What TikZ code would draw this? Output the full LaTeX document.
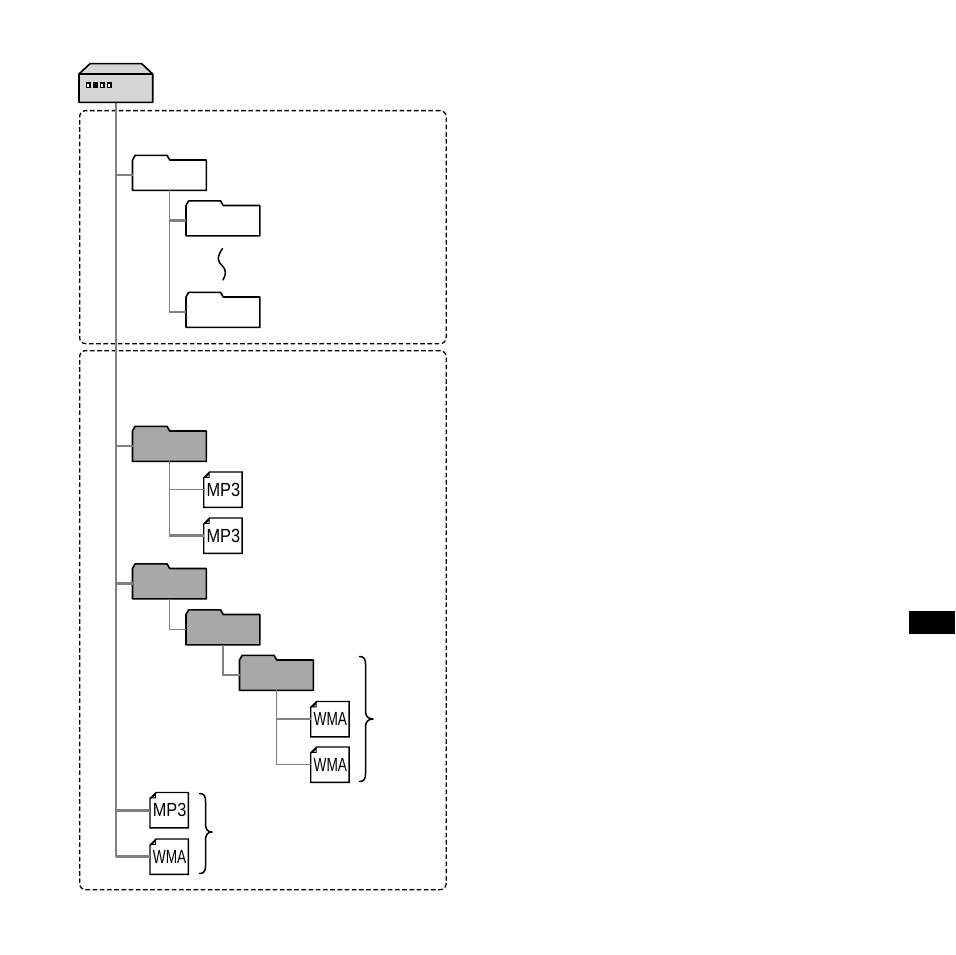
\documentclass[tikz,border=0pt]{standalone}
\usepackage{fontspec}
\setmainfont{Liberation Sans}
\usetikzlibrary{calc}
\definecolor{devgray}{gray}{0.84}
\definecolor{foldergray}{gray}{0.66}
\definecolor{wiregray}{gray}{0.5}
\tikzset{
  hub/.style={draw=black,line width=1.6pt,fill=devgray,line join=round},
  folderline/.style={draw=black,line width=1.6pt,line join=round},
  anchorbox/.style={inner sep=0pt,minimum width=73.5pt,minimum height=30pt},
  filebox/.style={inner sep=0pt,minimum width=38pt,minimum height=35pt,font=\fontsize{19}{19}\selectfont},
  wire/.style={draw=wiregray,line width=1.8pt},
  wirethin/.style={draw=wiregray,line width=1.5pt},
  wirethick/.style={draw=wiregray,line width=2.8pt},
  zone/.style={draw=black,line width=1.3pt,dash pattern=on 4.6pt off 2.6pt,rounded corners=6pt},
  curlyline/.style={draw=black,line width=1.5pt,line cap=round,line join=round}
}
% \folderbox{name}{left}{body top}{fill}
\newcommand{\folderbox}[4]{%
  \node[anchorbox,anchor=north west] (#1) at (#2,#3) {};
  \path[folderline,fill=#4]
    (#1.south west) -- (#1.north west) -- ++(2.6,-4.6) -- ++(32,0) -- ++(2.6,4.6) -- (#1.north east) -- (#1.south east) -- cycle;
}
% \filedoc{name}{left}{top}{text}{xscale}
\newcommand{\filedoc}[5]{%
  \node[filebox,anchor=north west] (#1) at (#2,#3) {\hspace*{0.8pt}\scalebox{#5}[1]{#4}};
  \draw[line width=1.4pt,line join=miter]
    ($(#1.north west)+(6,0)$) -- (#1.north east) -- (#1.south east) -- (#1.south west) -- ($(#1.north west)+(0,6)$) -- cycle;
  \fill[black] ($(#1.north west)+(0.7,5.8)$) -- ($(#1.north west)+(5.8,0.7)$) -- ($(#1.north west)+(5.8,5.8)$) -- cycle;
  \fill[white] ($(#1.north west)+(3.2,4.9)$) -- ($(#1.north west)+(4.9,3.2)$) -- ($(#1.north west)+(4.9,4.9)$) -- cycle;
}
\begin{document}
\begin{tikzpicture}[x=1pt,y=-1pt]
\useasboundingbox (0,0) rectangle (955,955);

% zones
\node[zone,minimum width=366.5pt,minimum height=233pt,inner sep=0pt,anchor=north west] (zoneA) at (79,110) {};
\node[zone,minimum width=366.5pt,minimum height=539pt,inner sep=0pt,anchor=north west] (zoneB) at (79,350) {};

% device node
\node[inner sep=0pt,minimum width=73.3pt,minimum height=28pt,anchor=north west] (dev) at (79,74) {};

% folders
\folderbox{fa}{132.5}{160}{white}
\folderbox{fb}{186}{205.5}{white}
\folderbox{fc}{186}{297}{white}
\folderbox{ga}{132.5}{431}{foldergray}
\folderbox{gb}{132.5}{568.5}{foldergray}
\folderbox{gc}{186}{614.5}{foldergray}
\folderbox{gd}{239.5}{660}{foldergray}

% files
\filedoc{ma}{203.7}{472}{MP3}{0.86}
\filedoc{mb}{203.7}{518}{MP3}{0.86}
\filedoc{wa}{310.7}{701.5}{WMA}{0.72}
\filedoc{wb}{310.7}{747}{WMA}{0.72}
\filedoc{mc}{150}{792.5}{MP3}{0.86}
\filedoc{wc}{150}{839}{WMA}{0.72}

% connectors
\draw[wire] (dev.south) -- (dev.south |- wc.west);
\draw[wirethin] (fa.west) -- (fa.west -| dev.south);
\draw[wirethin] (ga.west) -- (ga.west -| dev.south);
\draw[wirethick] (gb.west) -- (gb.west -| dev.south);
\draw[wirethick] (mc.west) -- (mc.west -| dev.south);
\draw[wirethick] (wc.west) -- (wc.west -| dev.south);
\draw[wirethin] (fa.south) -- (fa.south |- fc.west) -- (fc.west);
\draw[wirethick] (fb.west) -- (fb.west -| fa.south);
\draw[wirethin] (ga.south) -- (ga.south |- mb.west);
\draw[wirethin] (ma.west) -- (ma.west -| ga.south);
\draw[wirethick] (mb.west) -- (mb.west -| ga.south);
\draw[wirethin] (gb.south) -- (gb.south |- gc.west) -- (gc.west);
\draw[wirethin] (gc.south) -- (gc.south |- gd.west) -- (gd.west);
\draw[wirethin] (gd.south) -- (gd.south |- wb.west) -- (wb.west);
\draw[wirethin] (wa.west) -- (wa.west -| gd.south);

% device drawing
\path[hub] (dev.south west) -- (dev.north west) -- (90,63.7) -- (141.7,63.7) -- (dev.north east) -- (dev.south east) -- cycle;
\draw[line width=1.2pt] (dev.north west) -- (dev.north east);
\foreach \i in {0,1,2,3}{
  \draw[line width=1.4pt,fill=white] ({86.4+\i*7},83) rectangle ++(3.4,4.6);
}
\fill[black] (93.4,83) rectangle (95.6,87.6);

% squiggle
\draw[curlyline] (222.5,248.5) .. controls (216,258) and (218,262) .. (222.5,266) .. controls (226.5,270) and (226,275) .. (223,280);

% braces
\draw[curlyline] (359.5,656.5) .. controls (364,656.5) and (365.5,659) .. (365.5,664) -- (365.5,711) .. controls (365.5,716) and (368,719) .. (373,719) .. controls (368,719) and (365.5,722) .. (365.5,727) -- (365.5,774) .. controls (365.5,779) and (364,781.5) .. (359.5,781.5);
\draw[curlyline] (199.5,793.5) .. controls (204,793.5) and (205.5,796) .. (205.5,801) -- (205.5,824) .. controls (205.5,829) and (207.5,832) .. (212,832) .. controls (207.5,832) and (205.5,835) .. (205.5,840) -- (205.5,866) .. controls (205.5,871) and (204,873.5) .. (199.5,873.5);

% tab
\fill[black] (909,611) rectangle (955,634);
\end{tikzpicture}
\end{document}
